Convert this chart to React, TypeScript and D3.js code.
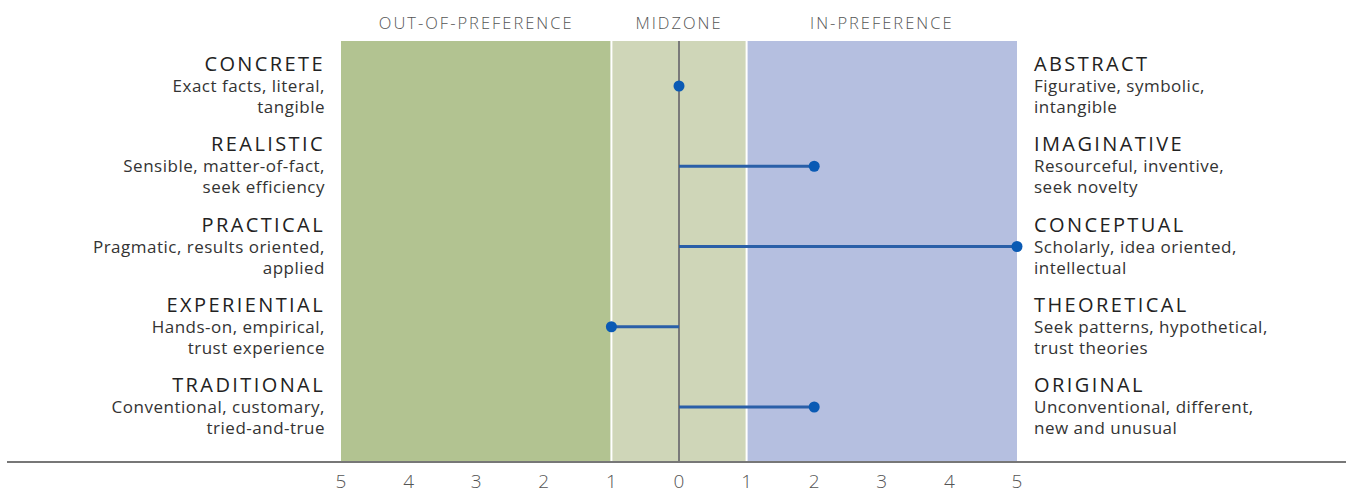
import * as d3 from "d3";
import { useEffect, useRef } from "react";

// left pole, right pole, descriptions, score (negative = left / out-of-preference)
const leftPoles = ["CONCRETE", "REALISTIC", "PRACTICAL", "EXPERIENTIAL", "TRADITIONAL"];
const leftDesc = [
  ["Exact facts, literal,", "tangible"],
  ["Sensible, matter-of-fact,", "seek efficiency"],
  ["Pragmatic, results oriented,", "applied"],
  ["Hands-on, empirical,", "trust experience"],
  ["Conventional, customary,", "tried-and-true"],
];
const rightPoles = ["ABSTRACT", "IMAGINATIVE", "CONCEPTUAL", "THEORETICAL", "ORIGINAL"];
const rightDesc = [
  ["Figurative, symbolic,", "intangible"],
  ["Resourceful, inventive,", "seek novelty"],
  ["Scholarly, idea oriented,", "intellectual"],
  ["Seek patterns, hypothetical,", "trust theories"],
  ["Unconventional, different,", "new and unusual"],
];
const scores = [0, 2, 5, -1, 2];
const tickValues = [-5, -4, -3, -2, -1, 0, 1, 2, 3, 4, 5];
const zones = [
  { name: "OUT-OF-PREFERENCE", from: -5, to: -1, color: "#b2c391" },
  { name: "MIDZONE", from: -1, to: 1, color: "#cfd6b8" },
  { name: "IN-PREFERENCE", from: 1, to: 5, color: "#b5bfe0" },
];

const App = () => {
  const ref = useRef<SVGSVGElement>(null);

  useEffect(() => {
    const svg = d3.select(ref.current);
    svg.selectAll("*").remove();
    const font = "'Open Sans', Lato, sans-serif";

    const x = d3.scaleLinear().domain([-5, 5]).range([341, 1017]);
    const y = d3.scalePoint().domain(leftPoles).range([86, 407]);
    const top = 41, bottom = 461;

    svg.selectAll("rect.zone").data(zones).enter().append("rect")
      .attr("x", d => x(d.from))
      .attr("y", top)
      .attr("width", d => x(d.to) - x(d.from))
      .attr("height", bottom - top)
      .attr("fill", d => d.color);

    // white separators between zones
    svg.selectAll("line.sep").data([-1, 1]).enter().append("line")
      .attr("x1", d => x(d)).attr("x2", d => x(d))
      .attr("y1", top).attr("y2", bottom)
      .attr("stroke", "#fff").attr("stroke-width", 2);

    svg.selectAll("text.zone").data(zones).enter().append("text")
      .attr("x", d => (x(d.from) + x(d.to)) / 2)
      .attr("y", 29)
      .attr("text-anchor", "middle")
      .attr("font-family", font)
      .attr("font-weight", 300)
      .attr("font-size", 16.5)
      .attr("letter-spacing", 2)
      .attr("fill", "#555")
      .text(d => d.name);

    // center line
    svg.append("line")
      .attr("x1", x(0)).attr("x2", x(0))
      .attr("y1", top).attr("y2", bottom)
      .attr("stroke", "#7a7a7a").attr("stroke-width", 2);

    // axis baseline
    svg.append("line")
      .attr("x1", 7).attr("x2", 1346)
      .attr("y1", 462).attr("y2", 462)
      .attr("stroke", "#777").attr("stroke-width", 2);

    svg.selectAll("text.tick").data(tickValues).enter().append("text")
      .attr("x", d => x(d))
      .attr("y", 488)
      .attr("text-anchor", "middle")
      .attr("font-family", font)
      .attr("font-weight", 300)
      .attr("font-size", 19)
      .attr("fill", "#555")
      .text(d => Math.abs(d));

    // score lines + dots
    svg.selectAll("line.score").data(scores).enter().append("line")
      .attr("x1", x(0))
      .attr("x2", d => x(d))
      .attr("y1", (d, i) => y(leftPoles[i])!)
      .attr("y2", (d, i) => y(leftPoles[i])!)
      .attr("stroke", "#2a5fa8").attr("stroke-width", 3);

    svg.selectAll("circle").data(scores).enter().append("circle")
      .attr("cx", d => x(d))
      .attr("cy", (d, i) => y(leftPoles[i])!)
      .attr("r", 5.5)
      .attr("fill", "#0a5ab4");

    const drawSide = (poles: string[], desc: string[][], tx: number, anchor: string) => {
      poles.forEach((p, i) => {
        const cy = y(leftPoles[i])!;
        svg.append("text")
          .attr("x", tx).attr("y", cy - 15)
          .attr("text-anchor", anchor)
          .attr("font-family", font)
          .attr("font-size", 20)
          .attr("letter-spacing", 2.4)
          .attr("fill", "#222")
          .text(p);
        desc[i].forEach((line, j) => {
          svg.append("text")
            .attr("x", tx).attr("y", cy + 6 + j * 21)
            .attr("text-anchor", anchor)
            .attr("font-family", font)
            .attr("font-size", 17)
            .attr("letter-spacing", 0.5)
            .attr("fill", "#333")
            .text(line);
        });
      });
    };
    drawSide(leftPoles, leftDesc, 325, "end");
    drawSide(rightPoles, rightDesc, 1034, "start");
  }, []);

  return (
    <svg ref={ref} width={1353} height={489}
      style={{ position: "absolute", left: 0, top: 0, background: "#fff" }} />
  );
};

export default App;
